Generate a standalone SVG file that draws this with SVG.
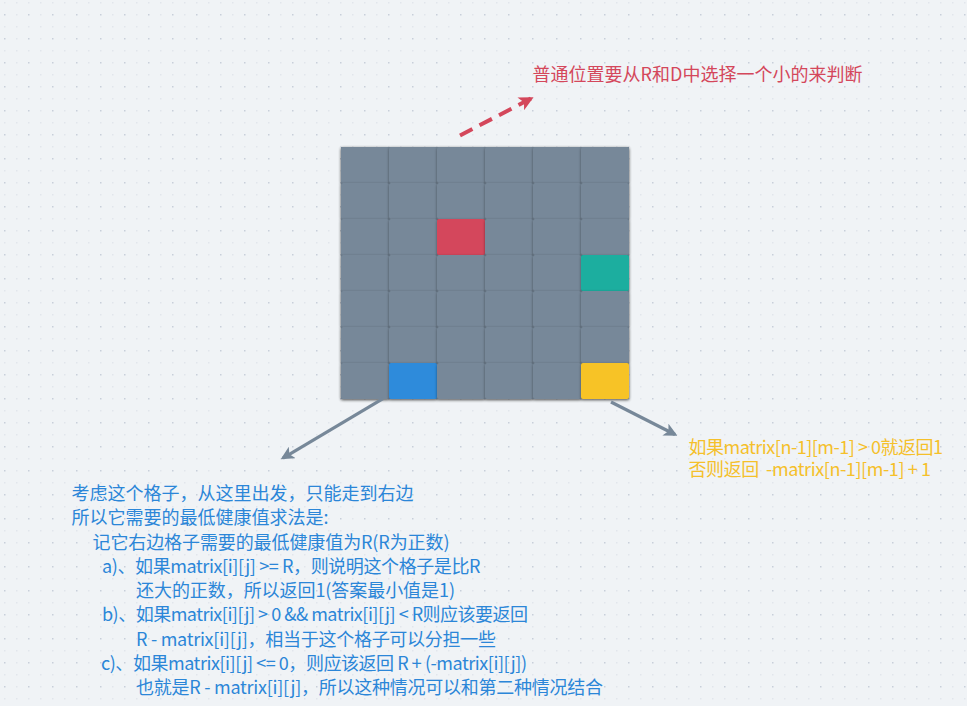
<svg xmlns="http://www.w3.org/2000/svg" width="967" height="706" viewBox="0 0 967 706">
<defs>
<pattern id="dots" patternUnits="userSpaceOnUse" x="0" y="0" width="24" height="24">
<rect x="4" y="2" width="1.5" height="1.5" fill="#e1e6ec"/>
<rect x="16" y="2" width="1.5" height="1.5" fill="#e1e6ec"/>
<rect x="16" y="14" width="1.5" height="1.5" fill="#e1e6ec"/>
<rect x="4" y="14" width="1.5" height="1.5" fill="#c8cfda"/>
</pattern>
<filter id="sh" x="-30%" y="-30%" width="160%" height="160%">
<feDropShadow dx="0" dy="1" stdDeviation="1.6" flood-color="#000" flood-opacity="0.4"/>
</filter>
<marker id="ag" viewBox="0 0 10 10" refX="8" refY="5" markerWidth="4.2" markerHeight="4.2" orient="auto" markerUnits="strokeWidth">
<path d="M0,0 L10,5 L0,10 L2.5,5 Z" fill="#778899"/>
</marker>
<marker id="ar" viewBox="0 0 10 10" refX="8" refY="5" markerWidth="3.6" markerHeight="3.6" orient="auto" markerUnits="strokeWidth">
<path d="M0,0 L10,5 L0,10 L2.5,5 Z" fill="#d4475b"/>
</marker>
<style>
.c{fill:#778899;filter:url(#sh)}
.t{font-family:"Noto Sans CJK SC","Noto Sans",sans-serif;font-size:18px;white-space:pre}
.b{fill:#2b86d8}
.y{fill:#f5c02a}
.r{fill:#d4475b}
</style>
</defs>
<rect width="967" height="706" fill="#f0f3f6"/>
<rect width="967" height="706" fill="url(#dots)"/>

<g id="board">
<rect x="341" y="147" width="288" height="252" fill="#778899" filter="url(#sh)"/>
<g id="r0">
<rect class="c" x="341" y="147" width="48" height="36" rx="2"/>
<rect class="c" x="389" y="147" width="48" height="36" rx="2"/>
<rect class="c" x="437" y="147" width="48" height="36" rx="2"/>
<rect class="c" x="485" y="147" width="48" height="36" rx="2"/>
<rect class="c" x="533" y="147" width="48" height="36" rx="2"/>
<rect class="c" x="581" y="147" width="48" height="36" rx="2"/>
</g>
<g id="r1">
<rect class="c" x="341" y="183" width="48" height="36" rx="2"/>
<rect class="c" x="389" y="183" width="48" height="36" rx="2"/>
<rect class="c" x="437" y="183" width="48" height="36" rx="2"/>
<rect class="c" x="485" y="183" width="48" height="36" rx="2"/>
<rect class="c" x="533" y="183" width="48" height="36" rx="2"/>
<rect class="c" x="581" y="183" width="48" height="36" rx="2"/>
</g>
<g id="r2">
<rect class="c" x="341" y="219" width="48" height="36" rx="2"/>
<rect class="c" x="389" y="219" width="48" height="36" rx="2"/>
<rect class="c" x="437" y="219" width="48" height="36" rx="2" style="fill:#d4475b"/>
<rect class="c" x="485" y="219" width="48" height="36" rx="2"/>
<rect class="c" x="533" y="219" width="48" height="36" rx="2"/>
<rect class="c" x="581" y="219" width="48" height="36" rx="2"/>
</g>
<g id="r3">
<rect class="c" x="341" y="255" width="48" height="36" rx="2"/>
<rect class="c" x="389" y="255" width="48" height="36" rx="2"/>
<rect class="c" x="437" y="255" width="48" height="36" rx="2"/>
<rect class="c" x="485" y="255" width="48" height="36" rx="2"/>
<rect class="c" x="533" y="255" width="48" height="36" rx="2"/>
<rect class="c" x="581" y="255" width="48" height="36" rx="2" style="fill:#1aae9f"/>
</g>
<g id="r4">
<rect class="c" x="341" y="291" width="48" height="36" rx="2"/>
<rect class="c" x="389" y="291" width="48" height="36" rx="2"/>
<rect class="c" x="437" y="291" width="48" height="36" rx="2"/>
<rect class="c" x="485" y="291" width="48" height="36" rx="2"/>
<rect class="c" x="533" y="291" width="48" height="36" rx="2"/>
<rect class="c" x="581" y="291" width="48" height="36" rx="2"/>
</g>
<g id="r5">
<rect class="c" x="341" y="327" width="48" height="36" rx="2"/>
<rect class="c" x="389" y="327" width="48" height="36" rx="2"/>
<rect class="c" x="437" y="327" width="48" height="36" rx="2"/>
<rect class="c" x="485" y="327" width="48" height="36" rx="2"/>
<rect class="c" x="533" y="327" width="48" height="36" rx="2"/>
<rect class="c" x="581" y="327" width="48" height="36" rx="2"/>
</g>
<g id="r6">
<rect class="c" x="341" y="363" width="48" height="36" rx="2"/>
<rect class="c" x="389" y="363" width="48" height="36" rx="2" style="fill:#2d8bdb"/>
<rect class="c" x="437" y="363" width="48" height="36" rx="2"/>
<rect class="c" x="485" y="363" width="48" height="36" rx="2"/>
<rect class="c" x="533" y="363" width="48" height="36" rx="2"/>
<rect class="c" x="581" y="363" width="48" height="36" rx="2" style="fill:#f7c325"/>
</g>
</g>

<g id="connectors" fill="none" stroke-linecap="butt">
<line x1="460" y1="135.5" x2="531" y2="98.5" stroke="#d4475b" stroke-width="4" stroke-dasharray="14,8" marker-end="url(#ar)"/>
<line x1="383" y1="398.5" x2="283" y2="458" stroke="#778899" stroke-width="3.2" marker-end="url(#ag)"/>
<line x1="611" y1="402" x2="675" y2="434.5" stroke="#778899" stroke-width="3.2" marker-end="url(#ag)"/>
</g>

<g id="label-top">
<text class="t r" x="532.5" y="81" textLength="330" lengthAdjust="spacing">普通位置要从R和D中选择一个小的来判断</text>
</g>

<g id="label-right">
<text class="t y" x="688.5" y="454" textLength="254.5" lengthAdjust="spacing">如果matrix[n-1][m-1] &gt; 0就返回1</text>
<text class="t y" x="688.5" y="476" textLength="242.5" lengthAdjust="spacing">否则返回  -matrix[n-1][m-1] + 1</text>
</g>

<g id="label-left">
<text class="t b" x="71.5" y="500" textLength="342" lengthAdjust="spacing">考虑这个格子，从这里出发，只能走到右边</text>
<text class="t b" x="71.5" y="524" textLength="257" lengthAdjust="spacing">所以它需要的最低健康值求法是:</text>
<text class="t b" x="92.5" y="548.5" textLength="357" lengthAdjust="spacing">记它右边格子需要的最低健康值为R(R为正数)</text>
<text class="t b" x="102" y="573" textLength="378.5" lengthAdjust="spacing">a)、如果matrix[i][j] &gt;= R，则说明这个格子是比R</text>
<text class="t b" x="136" y="597" textLength="319" lengthAdjust="spacing">还大的正数，所以返回1(答案最小值是1)</text>
<text class="t b" x="102" y="621" textLength="426" lengthAdjust="spacing">b)、如果matrix[i][j] &gt; 0 &amp;&amp; matrix[i][j] &lt; R则应该要返回</text>
<text class="t b" x="136" y="645.5" textLength="360" lengthAdjust="spacing">R - matrix[i][j]，相当于这个格子可以分担一些</text>
<text class="t b" x="101" y="669.5" textLength="426" lengthAdjust="spacing">c)、如果matrix[i][j] &lt;= 0，则应该返回 R + (-matrix[i][j])</text>
<text class="t b" x="136" y="694" textLength="467" lengthAdjust="spacing">也就是R - matrix[i][j]，所以这种情况可以和第二种情况结合</text>
</g>
</svg>
